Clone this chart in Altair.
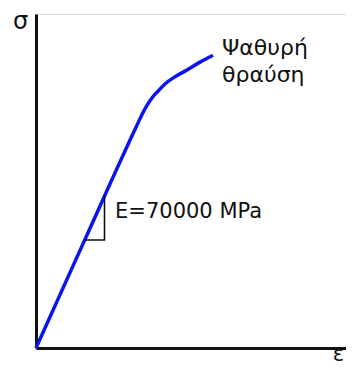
import altair as alt
import pandas as pd

# stress-strain curve (strain in ‰, stress in MPa)
strain = [0.0, 1.5, 3.26, 3.42, 3.58, 3.74, 3.94, 4.16, 4.48, 4.87, 5.29, 5.71]
stress = [0.0, 105, 227, 237.7, 246.9, 254.5, 261.6, 268.8, 276, 283, 291, 298]

# slope triangle
tri_x = [1.57, 2.21, 2.21]
tri_y = [110, 110, 155]
tri_order = [0, 1, 2]

label_E = "E=70000 MPa"
label_fail = ["Ψαθυρή", "θραύση"]

XMAX, YMAX = 10, 340
W, H = 310, 334
FONT = "DejaVu Sans"

curve_df = pd.DataFrame({"x": strain, "y": stress})
tri_df = pd.DataFrame({"x": tri_x, "y": tri_y, "o": tri_order})

xs = alt.Scale(domain=[0, XMAX], nice=False, zero=True)
ys = alt.Scale(domain=[0, YMAX], nice=False, zero=True)

x_axis = alt.Axis(ticks=False, labels=False, grid=False, domainColor="#111",
                  domainWidth=3, title="ε", titleFontSize=21, titleFontWeight="normal",
                  titleFont=FONT, titleX=302, titleY=6, titleAlign="center",
                  titleBaseline="middle", titleColor="#111")
y_axis = alt.Axis(ticks=False, labels=False, grid=False, domainColor="#111",
                  domainWidth=3, title="σ", titleFontSize=24, titleFontWeight="normal",
                  titleFont=FONT, titleAngle=0, titleX=-16, titleY=7, titleAlign="center",
                  titleBaseline="middle", titleColor="#111")

curve = alt.Chart(curve_df).mark_line(color="#0a14f0", strokeWidth=3.5,
                                      interpolate="monotone").encode(
    x=alt.X("x:Q", scale=xs, axis=x_axis),
    y=alt.Y("y:Q", scale=ys, axis=y_axis),
)

tri = alt.Chart(tri_df).mark_line(color="#111", strokeWidth=1.6).encode(
    x=alt.X("x:Q", scale=xs),
    y=alt.Y("y:Q", scale=ys),
    order="o:Q",
)

txt_E = alt.Chart(pd.DataFrame({"x": [2.55], "y": [138], "t": [label_E]})).mark_text(
    align="left", baseline="middle", fontSize=21, font=FONT, color="#111"
).encode(x=alt.X("x:Q", scale=xs), y=alt.Y("y:Q", scale=ys), text="t:N")

txt_fail = alt.Chart(pd.DataFrame({"x": [6.0], "y": [298]})).mark_text(
    align="left", baseline="alphabetic", fontSize=22, font=FONT, color="#111",
    lineHeight=27, text=label_fail
).encode(x=alt.X("x:Q", scale=xs), y=alt.Y("y:Q", scale=ys))

chart = alt.layer(curve, tri, txt_E, txt_fail).properties(
    width=W, height=H,
    autosize=alt.AutoSizeParams(type="none"),
    padding={"left": 28, "top": 6, "right": 0, "bottom": 18},
).configure_view(stroke=None).configure(font=FONT, background="white")

chart.save("out.html", embed_options={"renderer": "svg", "actions": False})
